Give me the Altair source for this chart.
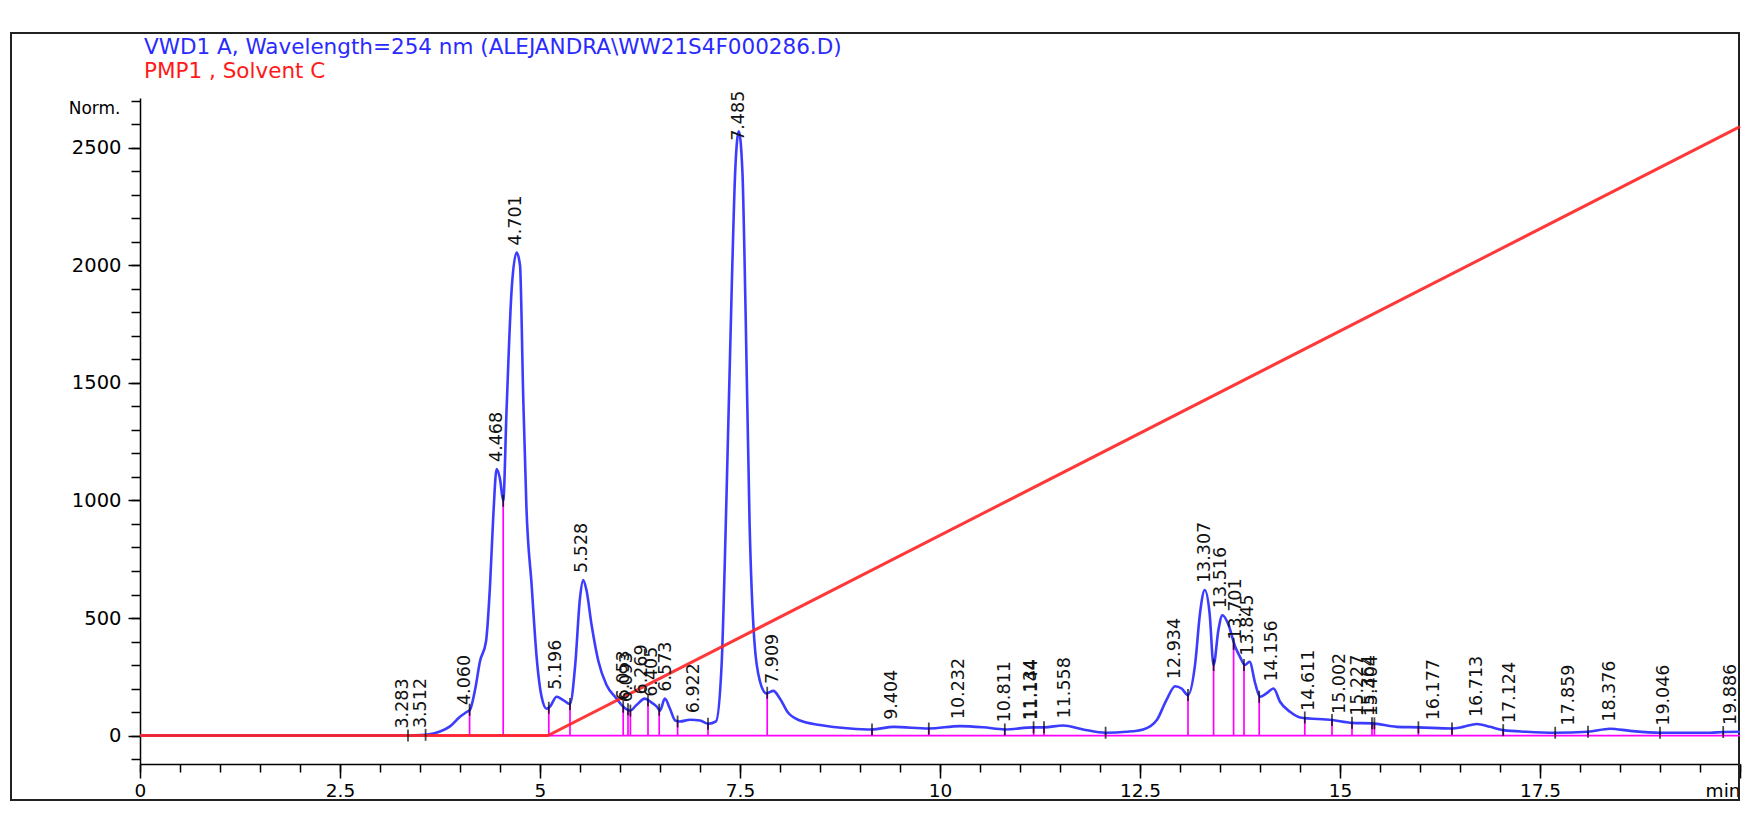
import altair as alt
import pandas as pd

# ---------------- data ----------------
# detector trace (VWD1 A, 254 nm): retention time (min) and response (Norm.)
trace_t = [0.0, 3.0, 3.3, 3.58, 3.75, 3.875, 4.0, 4.083, 4.125, 4.19, 4.25, 4.325, 4.375,
           4.417, 4.458, 4.5, 4.54, 4.583, 4.646, 4.708, 4.75, 4.79, 4.83, 4.896, 4.958,
           5.02, 5.083, 5.125, 5.208, 5.29, 5.375, 5.44, 5.5, 5.54, 5.58, 5.646, 5.73,
           5.83, 5.958, 6.04, 6.125, 6.21, 6.31, 6.375, 6.46, 6.5, 6.56, 6.625, 6.69,
           6.75, 6.875, 7.0, 7.104, 7.2, 7.27, 7.33, 7.40, 7.44, 7.485, 7.53, 7.57, 7.62,
           7.68, 7.75, 7.83, 7.917, 8.0, 8.1, 8.25, 8.5, 8.875, 9.15, 9.42, 9.86, 10.25,
           10.54, 10.81, 11.17, 11.3, 11.54, 11.79, 12.07, 12.33, 12.54, 12.71, 12.83,
           12.94, 13.02, 13.1, 13.19, 13.25, 13.31, 13.37, 13.42, 13.48, 13.53, 13.6,
           13.69, 13.75, 13.81, 13.87, 13.94, 14.0, 14.08, 14.17, 14.25, 14.375, 14.5,
           14.9, 15.15, 15.4, 15.71, 15.98, 16.4, 16.54, 16.71, 16.875, 17.04, 17.33,
           17.69, 18.1, 18.375, 18.625, 19.0, 19.625, 19.79, 20.0]
trace_v = [0, 0, 0, 3, 17, 39, 80, 100, 110, 198, 316, 400, 637,
           940, 1134, 1091, 999, 1395, 1900, 2055, 2001, 1445, 973, 637, 333,
           165, 114, 123, 165, 151, 134, 300, 586, 662, 620, 468, 316,
           216, 157, 123, 106, 131, 157, 145, 123, 106, 157, 114, 64,
           60, 67, 64, 50, 60, 300, 1000, 1950, 2400, 2570, 2400, 1800, 900,
           400, 230, 179, 190, 157, 98, 64, 45, 30, 26, 37, 30, 40,
           35, 26, 35, 35, 43, 26, 12, 16, 26, 66, 151,
           210, 200, 172, 307, 520, 619, 520, 300, 449, 512, 477,
           378, 335, 300, 314, 222, 165, 179, 200, 144, 101, 77,
           66, 54, 52, 37, 35, 30, 37, 49, 37, 23, 16,
           12, 16, 29, 20, 12, 12, 15, 16]

# pump trace (PMP1, Solvent C)
solvent_t = [0.0, 5.1, 20.0]
solvent_v = [0, 0, 2590]

# integration baseline
baseline_t = [3.28, 20.0]
baseline_v = [0, 0]

# peak start / end markers (drop lines)
bound_t = [3.35, 3.57, 4.12, 4.54, 5.11, 5.375, 6.04, 6.10, 6.13, 6.35, 6.49, 6.72, 7.10,
           7.84, 9.15, 9.86, 10.81, 11.17, 11.30, 12.07, 13.10, 13.42, 13.67, 13.80, 13.99,
           14.56, 14.90, 15.15, 15.40, 15.43, 15.98, 16.40, 17.04, 17.69, 18.10, 19.00, 19.79]
bound_v = [0, 3, 110, 999, 118, 134, 123, 112, 106, 150, 110, 60, 50,
           182, 26, 30, 26, 35, 35, 12, 172, 300, 390, 300, 165,
           77, 66, 54, 52, 52, 35, 30, 23, 12, 16, 12, 15]

# peak retention-time labels and the height each label is anchored at
peak_lbl = ["3.283", "3.512", "4.060", "4.468", "4.701", "5.196", "5.528", "6.053", "6.093",
            "6.269", "6.405", "6.573", "6.922", "7.485", "7.909", "9.404", "10.232", "10.811",
            "11.134", "11.144", "11.558", "12.934", "13.307", "13.516", "13.701", "13.845",
            "14.156", "14.611", "15.002", "15.227", "15.364", "15.404", "16.177", "16.713",
            "17.124", "17.859", "18.376", "19.046", "19.886"]
peak_rt = [3.283, 3.512, 4.060, 4.468, 4.701, 5.196, 5.528, 6.053, 6.093,
           6.269, 6.405, 6.573, 6.922, 7.485, 7.909, 9.404, 10.232, 10.811,
           11.134, 11.144, 11.558, 12.934, 13.307, 13.516, 13.701, 13.845,
           14.156, 14.611, 15.002, 15.227, 15.364, 15.404, 16.177, 16.713,
           17.124, 17.859, 18.376, 19.046, 19.886]
peak_h = [0, 2, 100, 1134, 2055, 165, 662, 120, 112,
          145, 135, 157, 65, 2500, 190, 37, 40, 26,
          35, 35, 43, 210, 619, 512, 378, 310,
          200, 75, 62, 54, 52, 52, 35, 49,
          23, 12, 29, 12, 15]

x_major = [0, 2.5, 5, 7.5, 10, 12.5, 15, 17.5, 20]
x_minor = [i * 0.5 for i in range(41)]
y_major = [0, 500, 1000, 1500, 2000, 2500]
y_minor = [i * 100 for i in range(-1, 28)]

title_1 = "VWD1 A, Wavelength=254 nm (ALEJANDRA\\WW21S4F000286.D)"
title_2 = "PMP1 , Solvent C"

# ---------------- styling ----------------
FONT = "DejaVu Sans"
W, H = 1600, 666
BLUE = "#3c3cff"
RED = "#ff2424"
MAGENTA = "#ff00ff"

xs = alt.Scale(domain=[0, 20], nice=False, zero=False)
ys = alt.Scale(domain=[-121, 2712], nice=False, zero=False)

trace_df = pd.DataFrame({"t": trace_t, "v": trace_v})
solvent_df = pd.DataFrame({"t": solvent_t, "v": solvent_v})
base_df = pd.DataFrame({"t": baseline_t, "v": baseline_v})
bound_df = pd.DataFrame({"t": bound_t, "v": bound_v})
peak_df = pd.DataFrame({"t": peak_rt, "v": peak_h, "lbl": peak_lbl})
one = pd.DataFrame({"a": [0]})

x_axis_major = alt.Axis(
    values=x_major, tickSize=14, tickColor="black", tickWidth=1.5,
    domainColor="black", domainWidth=1.5, grid=False, title=None,
    labelExpr="datum.value >= 20 ? 'min' : format(datum.value, '~g')",
    labelFlush=False,
    labelAlign={"condition": {"test": "datum.value >= 20", "value": "right"}, "value": "center"},
    labelFont=FONT, labelFontSize=18.5, labelColor="black", labelPadding=3,
    orient="bottom",
)
x_axis_minor = alt.Axis(
    values=x_minor, tickSize=8, tickColor="black", tickWidth=1.5,
    domain=False, labels=False, grid=False, title=None, orient="bottom",
)
y_axis_major = alt.Axis(
    values=y_major, tickSize=12, tickColor="black", tickWidth=1.5,
    domainColor="black", domainWidth=1.5, grid=False, format="d",
    labelFont=FONT, labelFontSize=19.5, labelColor="black", labelPadding=7,
    title="Norm.", titleAngle=0, titleAlign="right", titleBaseline="middle",
    titleX=-20, titleY=10, titleFont=FONT, titleFontSize=17,
    titleFontWeight="normal", titleColor="black",
    orient="left",
)
y_axis_minor = alt.Axis(
    values=y_minor, tickSize=9, tickColor="black", tickWidth=1.5,
    domain=False, labels=False, grid=False, title=None, orient="left",
)

frame = alt.Chart(one).mark_rect(fill=None, stroke="#222222", strokeWidth=2).encode(
    x=alt.value(-129), x2=alt.value(W - 1), y=alt.value(-65), y2=alt.value(H + 36)
)

title_a = alt.Chart(pd.DataFrame({"txt": [title_1]})).mark_text(
    align="left", baseline="alphabetic", font=FONT, fontSize=21.5, color="#2a2aff"
).encode(x=alt.value(4), y=alt.value(-44), text="txt:N")
title_b = alt.Chart(pd.DataFrame({"txt": [title_2]})).mark_text(
    align="left", baseline="alphabetic", font=FONT, fontSize=21.5, color="#ff1a1a"
).encode(x=alt.value(4), y=alt.value(-20), text="txt:N")

drops = alt.Chart(bound_df).mark_rule(color=MAGENTA, strokeWidth=1.7).transform_calculate(
    base="0"
).encode(
    x=alt.X("t:Q", scale=xs, axis=None),
    y=alt.Y("base:Q", scale=ys, axis=None),
    y2="v:Q",
)

baseline = alt.Chart(base_df).mark_line(color=MAGENTA, strokeWidth=1.8).encode(
    x=alt.X("t:Q", scale=xs, axis=x_axis_minor),
    y=alt.Y("v:Q", scale=ys, axis=y_axis_minor),
)

trace = alt.Chart(trace_df).mark_line(
    color=BLUE, strokeWidth=2.6, interpolate="monotone"
).encode(
    x=alt.X("t:Q", scale=xs, axis=x_axis_major),
    y=alt.Y("v:Q", scale=ys, axis=y_axis_major),
)

solvent = alt.Chart(solvent_df).mark_line(color=RED, strokeWidth=3, opacity=0.9).encode(
    x=alt.X("t:Q", scale=xs, axis=None),
    y=alt.Y("v:Q", scale=ys, axis=None),
)

marks = alt.Chart(bound_df).mark_tick(
    orient="vertical", size=12, thickness=1.8, color="black"
).encode(
    x=alt.X("t:Q", scale=xs, axis=None),
    y=alt.Y("v:Q", scale=ys, axis=None),
)

labels = alt.Chart(peak_df).mark_text(
    angle=270, align="left", baseline="middle", dx=7, font=FONT, fontSize=17.5,
    color="#111111",
).encode(
    x=alt.X("t:Q", scale=xs, axis=None),
    y=alt.Y("v:Q", scale=ys, axis=None),
    text="lbl:N",
)

chart = alt.layer(
    frame, title_a, title_b, drops, baseline, trace, solvent, marks, labels
).resolve_axis(
    x="independent", y="independent"
).properties(
    width=W, height=H,
    autosize=alt.AutoSizeParams(type="none"),
    padding={"left": 140, "top": 98, "right": 2, "bottom": 58},
    background="white",
).configure_view(stroke=None)

chart.save("out.html", embed_options={"renderer": "svg", "actions": False})
